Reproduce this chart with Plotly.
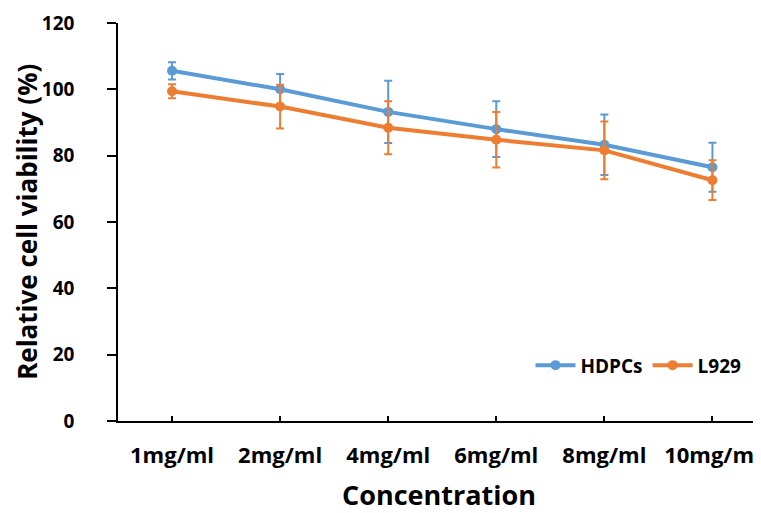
import plotly.graph_objects as go

categories = ["1mg/ml", "2mg/ml", "4mg/ml", "6mg/ml", "8mg/ml", "10mg/ml"]
hdpcs = [105.6, 100.0, 93.2, 88.0, 83.3, 76.5]
hdpcs_err = [2.6, 4.6, 9.4, 8.4, 9.1, 7.4]
l929 = [99.4, 94.8, 88.4, 84.8, 81.6, 72.6]
l929_err = [2.1, 6.6, 8.0, 8.4, 8.7, 6.0]
y_ticks = [0, 20, 40, 60, 80, 100, 120]

BLUE = "#5B9BD5"
ORANGE = "#ED7D31"
FONT = "Open Sans"

fig = go.Figure()
for name, vals, errs, col in [("HDPCs", hdpcs, hdpcs_err, BLUE), ("L929", l929, l929_err, ORANGE)]:
    fig.add_trace(go.Scatter(
        x=categories, y=vals, name=name, mode="lines+markers",
        line=dict(color=col, width=4),
        marker=dict(color=col, size=10),
        error_y=dict(type="data", array=errs, visible=True, color=col, thickness=2, width=4),
    ))

fig.update_layout(
    width=753, height=505,
    margin=dict(l=110, r=1, t=15, b=92),
    paper_bgcolor="white", plot_bgcolor="white",
    font=dict(family=FONT, color="black", size=19, weight="bold"),
    showlegend=True,
    legend=dict(orientation="h", x=0.6425, y=0.14, xanchor="left", yanchor="middle",
                bgcolor="rgba(0,0,0,0)", font=dict(size=19, family=FONT, weight="bold"),
                itemwidth=40, tracegroupgap=0),
    xaxis=dict(
        type="category", range=[-0.5, 5.44], automargin=False,
        showline=True, linecolor="black", linewidth=1.5,
        ticks="inside", ticklen=5, tickcolor="black", tickwidth=1.5,
        showgrid=False, zeroline=False,
        ticklabelstandoff=14,
        tickfont=dict(size=22, family=FONT, weight="bold"),
        title=dict(text="Concentration", font=dict(size=27, family=FONT, weight="bold"), standoff=19),
    ),
    yaxis=dict(
        range=[0, 120], tickvals=y_ticks, automargin=False,
        showline=True, linecolor="black", linewidth=1.5,
        ticks="outside", ticklen=9, tickcolor="black", tickwidth=1.5,
        showgrid=False, zeroline=False,
        ticklabelstandoff=29,
        tickfont=dict(size=19, family=FONT, weight="bold"),
    ),
    annotations=[dict(
        text="Relative cell viability (%)", textangle=-90,
        xref="paper", yref="paper", x=-0.142, y=0.5, xanchor="center", yanchor="middle",
        showarrow=False, borderpad=0,
        font=dict(size=26, family=FONT, weight="bold", color="black"),
    )],
)

fig.write_html("out.html")
